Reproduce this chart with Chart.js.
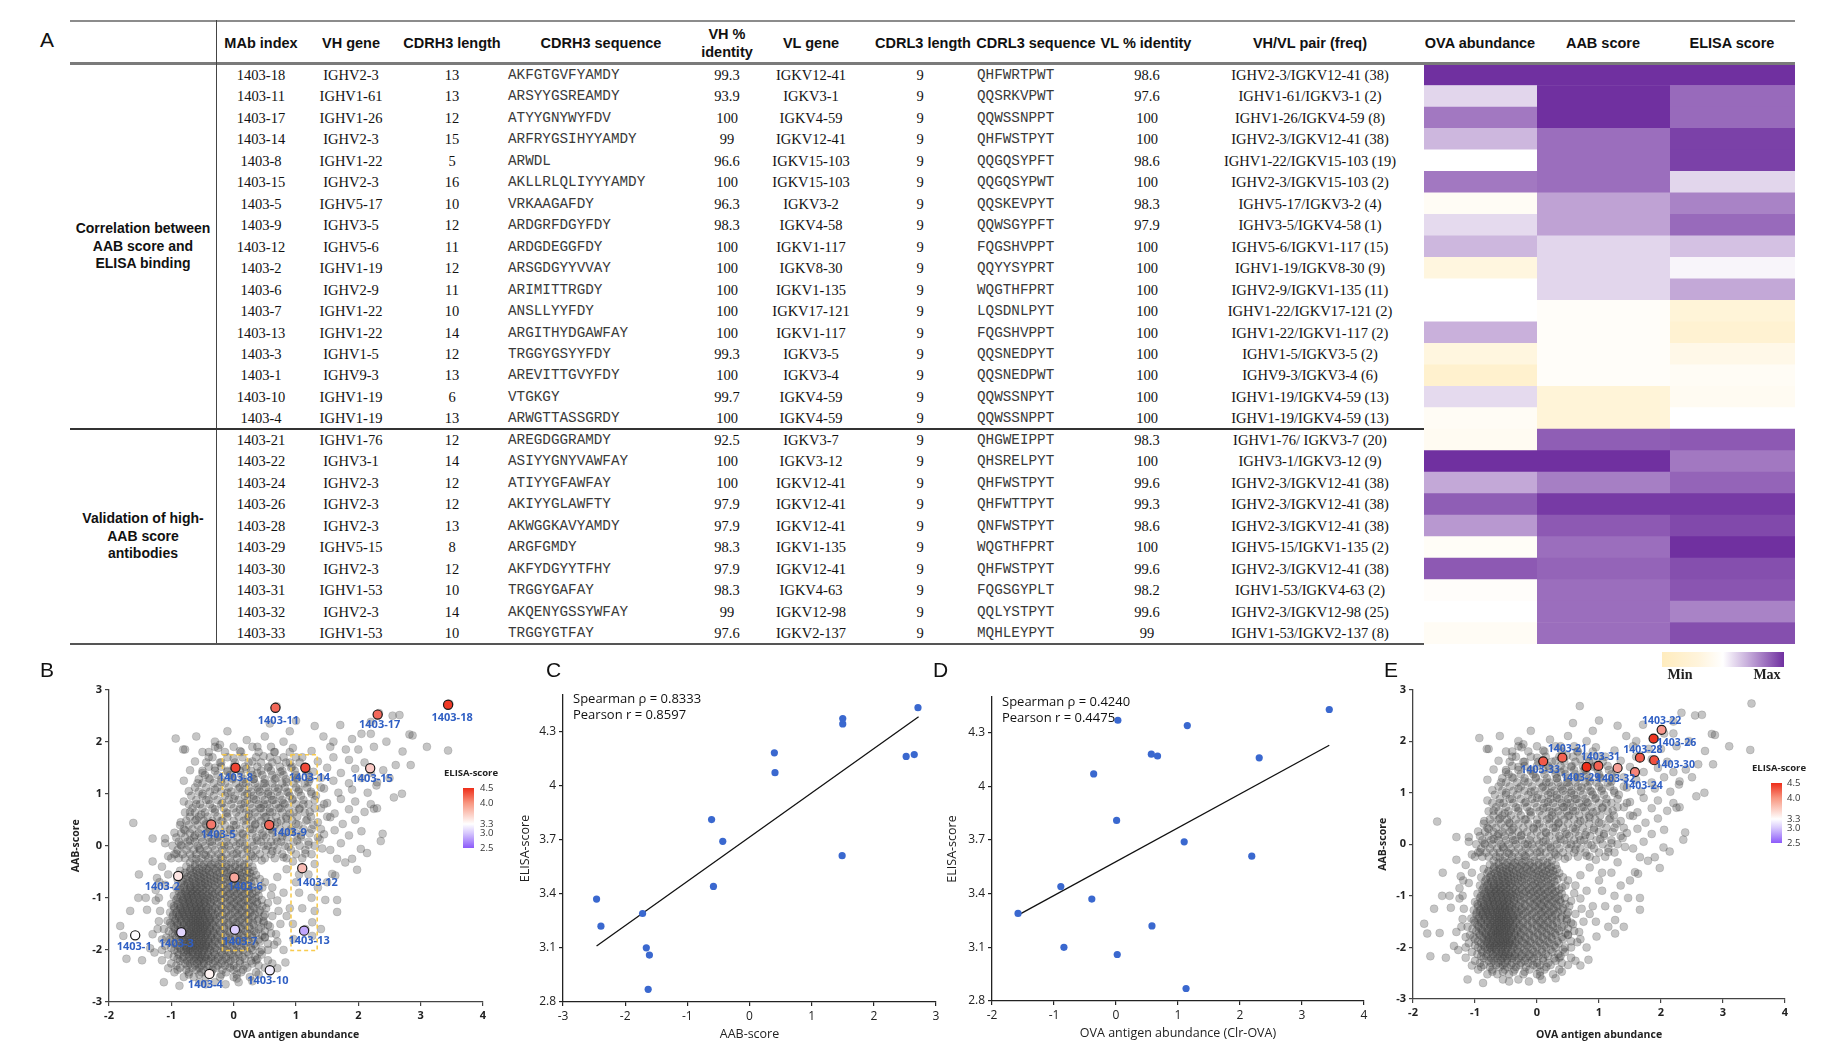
<!DOCTYPE html>
<html>
<head>
<meta charset="utf-8">
<script src="https://cdn.jsdelivr.net/npm/chart.js@4.4.1/dist/chart.umd.min.js"></script>
<style>
  html, body { margin: 0; padding: 0; background: #fff; }
  #page { position: relative; width: 1844px; height: 1062px; overflow: hidden; background: #fff; }
  .abs { position: absolute; white-space: pre; }
  .hd { font: bold 14.5px "Liberation Sans", Arial, sans-serif; color: #111; text-align: center; line-height: 18px; }
  .grp { font: bold 14px "Liberation Sans", Arial, sans-serif; color: #111; text-align: center; line-height: 17.5px; }
  .cell { font: 14.5px "Liberation Serif", "Times New Roman", serif; color: #111; text-align: center; line-height: 18px; }
  .seq { font: 14.3px "Liberation Mono", "Courier New", monospace; color: #3a3a3a; line-height: 18px; }
  .rule { position: absolute; }
  .panel { font: 21px "Liberation Sans", Arial, sans-serif; color: #111; line-height: 21px; }
  .stat { font: 13px "Open Sans", sans-serif; color: #111; line-height: 16px; }
  .lgT { font: bold 9.5px "Open Sans", sans-serif; color: #222; text-align: center; line-height: 12px; }
  .lgL { font: 9.5px "Open Sans", sans-serif; color: #333; line-height: 10px; }
  .mm { font: bold 14px "Liberation Serif", "Times New Roman", serif; color: #222; text-align: center; line-height: 16px; }
  canvas { position: absolute; }
</style>
</head>
<body>
<div id="page">
  <canvas id="heatOva"></canvas>
  <canvas id="heatAab"></canvas>
  <canvas id="heatElisa"></canvas>
  <canvas id="chartB"></canvas>
  <canvas id="chartC"></canvas>
  <canvas id="chartD"></canvas>
  <canvas id="chartE"></canvas>
</div>
<script>
// ---- table A ----
const mabIndex = ["1403-18", "1403-11", "1403-17", "1403-14", "1403-8", "1403-15", "1403-5", "1403-9", "1403-12", "1403-2", "1403-6", "1403-7", "1403-13", "1403-3", "1403-1", "1403-10", "1403-4",
  "1403-21", "1403-22", "1403-24", "1403-26", "1403-28", "1403-29", "1403-30", "1403-31", "1403-32", "1403-33"];
const vhGene = ["IGHV2-3", "IGHV1-61", "IGHV1-26", "IGHV2-3", "IGHV1-22", "IGHV2-3", "IGHV5-17", "IGHV3-5", "IGHV5-6", "IGHV1-19", "IGHV2-9", "IGHV1-22", "IGHV1-22", "IGHV1-5", "IGHV9-3", "IGHV1-19", "IGHV1-19",
  "IGHV1-76", "IGHV3-1", "IGHV2-3", "IGHV2-3", "IGHV2-3", "IGHV5-15", "IGHV2-3", "IGHV1-53", "IGHV2-3", "IGHV1-53"];
const cdrh3Length = ["13", "13", "12", "15", "5", "16", "10", "12", "11", "12", "11", "10", "14", "12", "13", "6", "13",
  "12", "14", "12", "12", "13", "8", "12", "10", "14", "10"];
const cdrh3Seq = ["AKFGTGVFYAMDY", "ARSYYGSREAMDY", "ATYYGNYWYFDV", "ARFRYGSIHYYAMDY", "ARWDL", "AKLLRLQLIYYYAMDY", "VRKAAGAFDY", "ARDGRFDGYFDY", "ARDGDEGGFDY", "ARSGDGYYVVAY", "ARIMITTRGDY", "ANSLLYYFDY", "ARGITHYDGAWFAY", "TRGGYGSYYFDY", "AREVITTGVYFDY", "VTGKGY", "ARWGTTASSGRDY",
  "AREGDGGRAMDY", "ASIYYGNYVAWFAY", "ATIYYGFAWFAY", "AKIYYGLAWFTY", "AKWGGKAVYAMDY", "ARGFGMDY", "AKFYDGYYTFHY", "TRGGYGAFAY", "AKQENYGSSYWFAY", "TRGGYGTFAY"];
const vhIdentity = ["99.3", "93.9", "100", "99", "96.6", "100", "96.3", "98.3", "100", "100", "100", "100", "100", "99.3", "100", "99.7", "100",
  "92.5", "100", "100", "97.9", "97.9", "98.3", "97.9", "98.3", "99", "97.6"];
const vlGene = ["IGKV12-41", "IGKV3-1", "IGKV4-59", "IGKV12-41", "IGKV15-103", "IGKV15-103", "IGKV3-2", "IGKV4-58", "IGKV1-117", "IGKV8-30", "IGKV1-135", "IGKV17-121", "IGKV1-117", "IGKV3-5", "IGKV3-4", "IGKV4-59", "IGKV4-59",
  "IGKV3-7", "IGKV3-12", "IGKV12-41", "IGKV12-41", "IGKV12-41", "IGKV1-135", "IGKV12-41", "IGKV4-63", "IGKV12-98", "IGKV2-137"];
const cdrl3Length = ["9", "9", "9", "9", "9", "9", "9", "9", "9", "9", "9", "9", "9", "9", "9", "9", "9",
  "9", "9", "9", "9", "9", "9", "9", "9", "9", "9"];
const cdrl3Seq = ["QHFWRTPWT", "QQSRKVPWT", "QQWSSNPPT", "QHFWSTPYT", "QQGQSYPFT", "QQGQSYPWT", "QQSKEVPYT", "QQWSGYPFT", "FQGSHVPPT", "QQYYSYPRT", "WQGTHFPRT", "LQSDNLPYT", "FQGSHVPPT", "QQSNEDPYT", "QQSNEDPWT", "QQWSSNPYT", "QQWSSNPPT",
  "QHGWEIPPT", "QHSRELPYT", "QHFWSTPYT", "QHFWTTPYT", "QNFWSTPYT", "WQGTHFPRT", "QHFWSTPYT", "FQGSGYPLT", "QQLYSTPYT", "MQHLEYPYT"];
const vlIdentity = ["98.6", "97.6", "100", "100", "98.6", "100", "98.3", "97.9", "100", "100", "100", "100", "100", "100", "100", "100", "100",
  "98.3", "100", "99.6", "99.3", "98.6", "100", "99.6", "98.2", "99.6", "99"];
const pairFreq = ["IGHV2-3/IGKV12-41 (38)", "IGHV1-61/IGKV3-1 (2)", "IGHV1-26/IGKV4-59 (8)", "IGHV2-3/IGKV12-41 (38)", "IGHV1-22/IGKV15-103 (19)", "IGHV2-3/IGKV15-103 (2)", "IGHV5-17/IGKV3-2 (4)", "IGHV3-5/IGKV4-58 (1)", "IGHV5-6/IGKV1-117 (15)", "IGHV1-19/IGKV8-30 (9)", "IGHV2-9/IGKV1-135 (11)", "IGHV1-22/IGKV17-121 (2)", "IGHV1-22/IGKV1-117 (2)", "IGHV1-5/IGKV3-5 (2)", "IGHV9-3/IGKV3-4 (6)", "IGHV1-19/IGKV4-59 (13)", "IGHV1-19/IGKV4-59 (13)",
  "IGHV1-76/ IGKV3-7 (20)", "IGHV3-1/IGKV3-12 (9)", "IGHV2-3/IGKV12-41 (38)", "IGHV2-3/IGKV12-41 (38)", "IGHV2-3/IGKV12-41 (38)", "IGHV5-15/IGKV1-135 (2)", "IGHV2-3/IGKV12-41 (38)", "IGHV1-53/IGKV4-63 (2)", "IGHV2-3/IGKV12-98 (25)", "IGHV1-53/IGKV2-137 (8)"];
const headerLabels = ["MAb index", "VH gene", "CDRH3 length", "CDRH3 sequence", "VH %\nidentity", "VL gene", "CDRL3 length", "CDRL3 sequence", "VL % identity", "VH/VL pair (freq)", "OVA abundance", "AAB score", "ELISA score"];
const groupLabels = ["Correlation between\nAAB score and\nELISA binding", "Validation of high-\nAAB score\nantibodies"];
const groupSizes = [17, 10];

// heatmap levels: -1 = min (yellow), 0 = white, 1 = max (purple)
const ovaHeat = [1.0, 0.2, 0.65, 0.35, 0.0, 0.65, -0.15, 0.18, 0.35, -0.5, 0.0, 0.0, 0.38, -0.5, -0.75, 0.18, -0.15,
  -0.2, 1.0, 0.42, 0.78, 0.5, -0.12, 0.8, -0.08, 0.0, -0.15];
const aabHeat = [1.0, 1.0, 1.0, 0.7, 0.7, 0.7, 0.45, 0.45, 0.2, 0.2, 0.2, -0.1, -0.1, -0.1, -0.1, -0.6, -0.6,
  0.78, 1.0, 0.62, 0.95, 0.8, 0.7, 0.75, 0.7, 0.7, 0.7];
const elisaHeat = [1.0, 0.72, 0.72, 0.92, 0.92, 0.2, 0.6, 0.72, 0.3, 0.05, 0.42, -0.6, -0.7, -0.35, -0.15, -0.2, 0.0,
  0.8, 0.65, 0.75, 0.95, 0.88, 1.0, 0.85, 0.82, 0.6, 0.85];

// ---- panels B, C, D: the 17 antibodies of the first group ----
const ova1 = [3.44, 0.67, 2.31, 1.15, 0.03, 2.19, -0.36, 0.57, 1.10, -0.89, 0.01, 0.02, 1.13, -0.84, -1.58, 0.58, -0.39];
const aab1 = [2.71, 2.65, 2.52, 1.50, 1.50, 1.49, 0.41, 0.40, -0.43, -0.58, -0.61, -1.61, -1.63, -1.66, -1.72, -2.39, -2.46];
const elisa1 = [4.43, 4.17, 4.16, 4.34, 4.37, 3.61, 4.07, 4.18, 3.69, 3.44, 3.81, 3.06, 2.87, 3.10, 3.29, 3.22, 3.37];
const fitC = [[-2.46, 3.11], [2.72, 4.38]];
const fitD = [[-1.58, 3.28], [3.44, 4.23]];
const statsC = ["Spearman ρ = 0.8333", "Pearson r = 0.8597"];
const statsD = ["Spearman ρ = 0.4240", "Pearson r = 0.4475"];

// ---- panel E: the 10 validation antibodies ----
const mabE = ["1403-21", "1403-22", "1403-24", "1403-26", "1403-28", "1403-29", "1403-30", "1403-31", "1403-32", "1403-33"];
const ovaE = [0.41, 2.01, 1.58, 1.88, 1.66, 0.80, 1.89, 0.99, 1.30, 0.10];
const aabE = [1.68, 2.22, 1.40, 2.05, 1.68, 1.50, 1.63, 1.52, 1.48, 1.61];
const elisaE = [4.2, 3.9, 4.0, 4.45, 4.25, 4.5, 4.3, 4.2, 3.85, 4.25];

// dashed selection boxes in B: [xMin, xMax, yMin, yMax]
const boxesB = [[-0.18, 0.22, -2.01, 1.75], [0.92, 1.34, -2.01, 1.75]];

const ticksOva = [-2, -1, 0, 1, 2, 3, 4];
const ticksAab = [-3, -2, -1, 0, 1, 2, 3];
const ticksElisa = [2.8, 3.1, 3.4, 3.7, 4, 4.3];
const elisaLegendTicks = [4.5, 4.0, 3.3, 3.0, 2.5];

// background library (OVA abundance vs AAB score), dense parts as rows: [y, x, x, ...]
const cloudCoreRows = [
  [-2.62, -0.55, -0.3, 0.08],
  [-2.52, -0.8, -0.64, -0.45, -0.22, 0.0, 0.26],
  [-2.43, -0.95, -0.72, -0.52, -0.36, -0.12, 0.12, 0.36],
  [-2.34, -0.86, -0.66, -0.55, -0.42, -0.28, -0.06, 0.05, 0.22, 0.5],
  [-2.26, -1.0, -0.78, -0.7, -0.58, -0.48, -0.33, -0.2, -0.08, 0.1, 0.3, 0.62],
  [-2.17, -0.9, -0.82, -0.68, -0.6, -0.52, -0.44, -0.36, -0.25, -0.12, 0.02, 0.18, 0.38],
  [-2.09, -1.05, -0.88, -0.75, -0.66, -0.57, -0.5, -0.41, -0.3, -0.18, -0.05, 0.08, 0.25, 0.45],
  [-2.0, -0.95, -0.84, -0.76, -0.7, -0.62, -0.55, -0.47, -0.38, -0.27, -0.14, 0.0, 0.15, 0.3, 0.55],
  [-1.92, -1.1, -0.9, -0.8, -0.72, -0.65, -0.58, -0.5, -0.44, -0.35, -0.22, -0.1, 0.05, 0.2, 0.35],
  [-1.84, -1.0, -0.86, -0.78, -0.7, -0.62, -0.55, -0.48, -0.4, -0.3, -0.18, -0.04, 0.1, 0.24, 0.42, 0.7],
  [-1.76, -1.08, -0.92, -0.82, -0.74, -0.67, -0.6, -0.52, -0.45, -0.36, -0.26, -0.12, 0.02, 0.16, 0.3, 0.5],
  [-1.68, -0.98, -0.88, -0.78, -0.7, -0.63, -0.56, -0.49, -0.42, -0.32, -0.2, -0.06, 0.08, 0.22, 0.36, 0.6],
  [-1.6, -1.12, -0.94, -0.84, -0.75, -0.68, -0.6, -0.53, -0.46, -0.38, -0.28, -0.15, 0.0, 0.12, 0.26, 0.4],
  [-1.52, -1.0, -0.9, -0.8, -0.72, -0.64, -0.57, -0.5, -0.43, -0.34, -0.22, -0.08, 0.05, 0.18, 0.32, 0.55],
  [-1.44, -1.06, -0.94, -0.85, -0.76, -0.68, -0.61, -0.54, -0.47, -0.39, -0.3, -0.16, -0.02, 0.1, 0.24, 0.38],
  [-1.36, -0.98, -0.88, -0.8, -0.72, -0.64, -0.57, -0.5, -0.42, -0.33, -0.22, -0.08, 0.06, 0.18, 0.3, 0.48],
  [-1.28, -1.02, -0.92, -0.83, -0.75, -0.67, -0.6, -0.52, -0.45, -0.36, -0.25, -0.12, 0.02, 0.14, 0.27, 0.4],
  [-1.2, -0.95, -0.86, -0.78, -0.7, -0.62, -0.55, -0.48, -0.4, -0.3, -0.18, -0.04, 0.08, 0.2, 0.33, 0.52],
  [-1.12, -1.0, -0.9, -0.8, -0.72, -0.64, -0.56, -0.48, -0.38, -0.26, -0.12, 0.0, 0.12, 0.25, 0.38],
  [-1.04, -0.92, -0.82, -0.74, -0.66, -0.58, -0.5, -0.42, -0.32, -0.2, -0.06, 0.06, 0.18, 0.3, 0.45],
  [-0.96, -0.96, -0.85, -0.76, -0.68, -0.6, -0.52, -0.43, -0.34, -0.22, -0.1, 0.02, 0.14, 0.27, 0.4],
  [-0.88, -0.88, -0.78, -0.7, -0.62, -0.54, -0.45, -0.35, -0.24, -0.12, 0.0, 0.12, 0.24, 0.36],
  [-0.8, -0.92, -0.8, -0.7, -0.62, -0.53, -0.44, -0.33, -0.2, -0.07, 0.05, 0.18, 0.3, 0.46],
  [-0.72, -0.84, -0.74, -0.64, -0.55, -0.46, -0.36, -0.24, -0.1, 0.02, 0.15, 0.28],
  [-0.64, -0.9, -0.76, -0.66, -0.56, -0.47, -0.37, -0.26, -0.14, 0.0, 0.12, 0.25, 0.42],
  [-0.56, -0.8, -0.68, -0.58, -0.48, -0.38, -0.27, -0.15, -0.02, 0.1, 0.22, 0.36],
  [-0.48, -0.86, -0.7, -0.6, -0.5, -0.4, -0.28, -0.16, -0.04, 0.08, 0.2, 0.32],
  [-0.4, -0.76, -0.62, -0.5, -0.38, -0.25, -0.12, 0.02, 0.16, 0.3],
  [-0.32, -0.7, -0.55, -0.42, -0.3, -0.18, -0.04, 0.1, 0.24],
  [-2.47, -0.72, -0.55, -0.38, -0.2, 0.05],
  [-2.38, -0.9, -0.76, -0.6, -0.48, -0.34, -0.18, 0.0, 0.15],
  [-2.3, -0.92, -0.74, -0.62, -0.52, -0.4, -0.26, -0.14, 0.0, 0.18, 0.4],
  [-2.21, -0.86, -0.74, -0.64, -0.56, -0.48, -0.4, -0.3, -0.18, -0.05, 0.1, 0.28],
  [-2.13, -0.96, -0.8, -0.71, -0.62, -0.54, -0.46, -0.36, -0.24, -0.12, 0.0, 0.14, 0.34],
  [-2.04, -0.9, -0.8, -0.73, -0.66, -0.58, -0.51, -0.42, -0.32, -0.2, -0.07, 0.08, 0.22, 0.42],
  [-1.96, -1.0, -0.86, -0.76, -0.68, -0.61, -0.54, -0.47, -0.4, -0.3, -0.16, -0.02, 0.12, 0.28],
  [-1.88, -0.95, -0.82, -0.74, -0.66, -0.59, -0.52, -0.44, -0.35, -0.24, -0.11, 0.03, 0.17, 0.33, 0.55],
  [-1.8, -1.02, -0.88, -0.79, -0.71, -0.64, -0.56, -0.49, -0.41, -0.31, -0.19, -0.05, 0.09, 0.23, 0.4],
  [-1.72, -0.94, -0.83, -0.74, -0.66, -0.6, -0.53, -0.45, -0.37, -0.26, -0.13, 0.01, 0.15, 0.29, 0.46],
  [-1.64, -1.04, -0.9, -0.8, -0.71, -0.64, -0.57, -0.5, -0.42, -0.33, -0.22, -0.08, 0.06, 0.19, 0.33, 0.5],
  [-1.56, -0.96, -0.85, -0.76, -0.68, -0.61, -0.54, -0.47, -0.39, -0.28, -0.15, -0.01, 0.12, 0.25, 0.44],
  [-1.48, -1.02, -0.9, -0.8, -0.72, -0.65, -0.58, -0.51, -0.43, -0.35, -0.23, -0.09, 0.04, 0.17, 0.31, 0.48],
  [-1.4, -0.93, -0.84, -0.76, -0.68, -0.61, -0.54, -0.46, -0.38, -0.28, -0.15, -0.01, 0.12, 0.24, 0.4],
  [-1.32, -0.97, -0.87, -0.79, -0.71, -0.64, -0.56, -0.49, -0.41, -0.3, -0.18, -0.05, 0.08, 0.21, 0.34, 0.5],
  [-1.24, -0.9, -0.82, -0.74, -0.66, -0.59, -0.52, -0.44, -0.35, -0.24, -0.11, 0.02, 0.14, 0.27, 0.42],
  [-1.16, -0.96, -0.85, -0.76, -0.68, -0.6, -0.52, -0.44, -0.34, -0.2, -0.06, 0.06, 0.18, 0.31, 0.46],
  [-1.08, -0.87, -0.78, -0.7, -0.62, -0.54, -0.46, -0.37, -0.26, -0.13, 0.0, 0.12, 0.24, 0.37],
  [-1.0, -0.9, -0.8, -0.72, -0.64, -0.55, -0.47, -0.38, -0.27, -0.14, -0.02, 0.1, 0.22, 0.35],
  [-0.92, -0.83, -0.74, -0.66, -0.58, -0.5, -0.4, -0.3, -0.18, -0.06, 0.06, 0.18, 0.3],
  [-0.84, -0.86, -0.75, -0.66, -0.58, -0.49, -0.39, -0.27, -0.14, -0.01, 0.11, 0.24, 0.4],
  [-0.76, -0.79, -0.69, -0.6, -0.5, -0.41, -0.3, -0.17, -0.04, 0.08, 0.22],
  [-0.68, -0.82, -0.71, -0.61, -0.52, -0.42, -0.31, -0.2, -0.07, 0.06, 0.18, 0.33],
  [-0.6, -0.74, -0.63, -0.53, -0.43, -0.32, -0.21, -0.08, 0.04, 0.16, 0.29],
  [-0.52, -0.78, -0.65, -0.55, -0.45, -0.34, -0.22, -0.1, 0.02, 0.14, 0.26],
  [-0.44, -0.69, -0.56, -0.44, -0.32, -0.19, -0.06, 0.09, 0.23],
  [-0.36, -0.62, -0.48, -0.36, -0.24, -0.11, 0.03, 0.17],
  [-0.24, -1.0, -0.88, -0.78, -0.66, -0.52, -0.4, -0.3, -0.18, -0.06, 0.06, 0.2, 0.34, 0.5, 0.66, 0.85, 1.1],
  [-0.16, -0.95, -0.82, -0.7, -0.6, -0.48, -0.36, -0.24, -0.12, 0.0, 0.14, 0.28, 0.42, 0.6, 0.78, 1.0, 1.25],
  [-0.08, -0.9, -0.76, -0.64, -0.54, -0.42, -0.3, -0.18, -0.05, 0.08, 0.22, 0.36, 0.52, 0.7, 0.92, 1.15],
  [0.0, -0.98, -0.84, -0.72, -0.58, -0.46, -0.34, -0.2, -0.08, 0.04, 0.18, 0.32, 0.48, 0.64, 0.82, 1.06, 1.3],
  [0.08, -0.88, -0.74, -0.62, -0.5, -0.38, -0.24, -0.12, 0.0, 0.14, 0.3, 0.44, 0.6, 0.76, 0.96, 1.2],
  [0.16, -0.92, -0.78, -0.64, -0.52, -0.4, -0.26, -0.1, 0.06, 0.2, 0.36, 0.52, 0.68, 0.86, 1.08, 1.35],
  [0.24, -0.84, -0.7, -0.56, -0.44, -0.3, -0.16, 0.0, 0.14, 0.3, 0.46, 0.62, 0.8, 1.0, 1.22],
  [0.32, -0.8, -0.66, -0.52, -0.38, -0.22, -0.06, 0.1, 0.26, 0.42, 0.58, 0.74, 0.92, 1.12, 1.4],
  [0.4, -0.86, -0.72, -0.58, -0.44, -0.3, -0.14, 0.04, 0.2, 0.34, 0.5, 0.66, 0.84, 1.04, 1.28],
  [0.48, -0.76, -0.62, -0.48, -0.34, -0.18, 0.0, 0.16, 0.3, 0.44, 0.6, 0.76, 0.94, 1.16],
  [0.56, -0.7, -0.56, -0.42, -0.26, -0.1, 0.08, 0.24, 0.38, 0.52, 0.68, 0.84, 1.02, 1.24, 1.5],
  [0.64, -0.78, -0.62, -0.46, -0.3, -0.12, 0.04, 0.2, 0.34, 0.48, 0.62, 0.78, 0.96, 1.14],
  [0.72, -0.66, -0.5, -0.34, -0.16, 0.0, 0.16, 0.3, 0.44, 0.58, 0.72, 0.88, 1.06, 1.3],
  [0.8, -0.72, -0.54, -0.38, -0.2, -0.04, 0.12, 0.26, 0.4, 0.54, 0.68, 0.82, 1.0, 1.2, 1.45],
  [0.88, -0.6, -0.44, -0.26, -0.08, 0.08, 0.22, 0.36, 0.5, 0.64, 0.78, 0.94, 1.12],
  [0.96, -0.68, -0.5, -0.32, -0.14, 0.02, 0.18, 0.32, 0.46, 0.6, 0.74, 0.9, 1.08, 1.32],
  [1.04, -0.56, -0.38, -0.2, -0.04, 0.14, 0.28, 0.42, 0.56, 0.7, 0.86, 1.04, 1.24],
  [1.12, -0.62, -0.44, -0.26, -0.08, 0.1, 0.24, 0.38, 0.52, 0.66, 0.82, 1.0, 1.18, 1.4],
  [1.2, -0.5, -0.32, -0.14, 0.04, 0.2, 0.34, 0.48, 0.62, 0.78, 0.96, 1.14],
  [1.28, -0.56, -0.38, -0.2, -0.02, 0.16, 0.32, 0.5, 0.66, 0.84, 1.02, 1.22],
  [1.36, -0.46, -0.26, -0.06, 0.12, 0.3, 0.46, 0.62, 0.8, 1.0, 1.2],
  [1.44, -0.5, -0.3, -0.1, 0.1, 0.28, 0.44, 0.6, 0.78, 0.98, 1.16],
  [1.52, -0.4, -0.2, 0.0, 0.18, 0.38, 0.56, 0.74, 0.94, 1.14],
  [1.6, -0.44, -0.22, 0.02, 0.24, 0.44, 0.62, 0.84, 1.06],
  [1.7, -0.34, -0.1, 0.14, 0.36, 0.58, 0.8, 1.0],
  [1.8, -0.4, -0.14, 0.12, 0.4, 0.66, 0.9],
  [1.9, -0.3, 0.0, 0.3, 0.6]
];
// outer band and scattered outliers: [x, y]
const cloudMid = [
  [-1.05, -0.2], [-0.92, -0.15], [-0.6, -0.25], [-0.45, -0.18], [-0.2, -0.22], [0.05, -0.15], [0.3, -0.2], [0.45, -0.28], [0.62, -0.1], [0.8, -0.22], [0.95, -0.3], [1.15, -0.15], [1.3, -0.35], [1.42, -0.05],
  [-1.1, 0.05], [-0.85, 0.02], [-0.7, 0.1], [-0.55, -0.05], [-0.35, 0.08], [-0.15, 0.0], [0.1, 0.05], [0.22, -0.05], [0.38, 0.1], [0.55, 0.0], [0.7, 0.08], [0.88, -0.02], [1.02, 0.1], [1.2, 0.02], [1.38, 0.12], [1.55, -0.08], [1.72, 0.05],
  [-0.95, 0.25], [-0.78, 0.3], [-0.62, 0.2], [-0.4, 0.28], [-0.25, 0.18], [-0.05, 0.3], [0.15, 0.22], [0.3, 0.32], [0.48, 0.2], [0.62, 0.3], [0.78, 0.18], [0.92, 0.28], [1.08, 0.2], [1.25, 0.32], [1.45, 0.22], [1.62, 0.3], [1.85, 0.2], [2.05, 0.28],
  [-0.85, 0.45], [-0.6, 0.5], [-0.45, 0.42], [-0.2, 0.48], [0.0, 0.4], [0.2, 0.5], [0.35, 0.42], [0.5, 0.55], [0.7, 0.45], [0.85, 0.52], [1.0, 0.42], [1.18, 0.5], [1.35, 0.45], [1.55, 0.55], [1.75, 0.42], [1.95, 0.5],
  [-0.7, 0.65], [-0.52, 0.6], [-0.3, 0.7], [-0.1, 0.62], [0.1, 0.7], [0.25, 0.62], [0.42, 0.72], [0.58, 0.65], [0.75, 0.72], [0.9, 0.62], [1.05, 0.7], [1.22, 0.65], [1.4, 0.72], [1.62, 0.62], [1.85, 0.7], [2.1, 0.65], [2.3, 0.72],
  [-0.8, 0.85], [-0.6, 0.8], [-0.4, 0.88], [-0.18, 0.82], [0.0, 0.9], [0.18, 0.82], [0.32, 0.9], [0.48, 0.8], [0.62, 0.88], [0.8, 0.82], [0.95, 0.9], [1.12, 0.8], [1.3, 0.88], [1.5, 0.82], [1.72, 0.9], [1.95, 0.85], [2.2, 0.8],
  [-0.72, 1.05], [-0.5, 1.0], [-0.3, 1.08], [-0.1, 1.02], [0.08, 1.1], [0.22, 1.0], [0.4, 1.08], [0.55, 1.0], [0.72, 1.1], [0.88, 1.02], [1.05, 1.08], [1.25, 1.0], [1.45, 1.1], [1.68, 1.02], [1.9, 1.08], [2.15, 1.02],
  [-0.8, 1.25], [-0.58, 1.2], [-0.4, 1.3], [-0.2, 1.22], [-0.02, 1.3], [0.15, 1.2], [0.32, 1.28], [0.5, 1.2], [0.68, 1.3], [0.85, 1.22], [1.02, 1.3], [1.2, 1.22], [1.4, 1.3], [1.6, 1.25], [1.85, 1.2], [2.05, 1.3], [2.3, 1.22],
  [-0.7, 1.45], [-0.5, 1.4], [-0.3, 1.5], [-0.1, 1.42], [0.2, 1.48], [0.38, 1.4], [0.55, 1.5], [0.75, 1.42], [0.92, 1.5], [1.28, 1.42], [1.5, 1.5], [1.72, 1.4], [1.95, 1.48], [2.4, 1.45],
  [-0.62, 1.62], [-0.4, 1.7], [-0.2, 1.6], [0.0, 1.68], [0.3, 1.62], [0.48, 1.72], [0.7, 1.65], [0.9, 1.6], [1.1, 1.7], [1.35, 1.62], [1.6, 1.7], [1.85, 1.65], [2.1, 1.6],
  [-0.78, 1.85], [-0.5, 1.8], [-0.25, 1.88], [0.1, 1.82], [0.38, 1.9], [0.65, 1.8], [0.95, 1.88], [1.25, 1.82], [1.55, 1.9], [1.8, 1.85], [2.25, 1.9],
  [-0.93, 2.06], [-0.3, 2.0], [0.21, 2.03], [0.5, 2.1], [0.8, 2.0], [1.44, 2.1], [1.9, 2.05], [2.2, 2.15]
];
const cloudSparse = [
  [3.46, 2.73], [3.44, 1.83], [2.82, 2.14], [2.87, 2.12], [2.71, 1.81], [2.84, 1.55], [2.66, 2.51], [2.33, 2.55], [1.71, 2.32], [0.69, 2.68], [0.58, 2.35],
  [-0.22, 1.94], [-0.81, 1.85], [2.57, 0.93], [2.29, 1.16], [2.25, 0.71], [2.39, 0.23], [2.36, 0.09], [2.14, -0.14], [2.04, -0.06], [1.98, -0.46], [1.79, -0.32],
  [1.9, -0.25], [1.66, -0.25], [1.63, -0.57], [1.58, -0.54], [1.5, -0.7], [1.66, -1.04], [1.47, -1.04], [1.66, -1.27], [1.26, -1.47], [1.26, -1.73], [1.15, -1.6],
  [0.96, -1.79], [0.83, -2.24], [-1.61, 0.44], [-1.3, 0.14], [-1.1, 0.14], [-1.52, -0.55], [-1.23, -0.62], [-1.19, -0.7], [-1.53, -1.0], [-1.41, -1.0],
  [-1.66, -1.25], [-1.39, -1.23], [-1.25, -1.05], [-1.82, -1.54], [-1.77, -1.73], [-1.57, -1.72], [-1.72, -2.17], [-1.47, -2.2], [-1.34, -1.97], [-1.27, -2.05],
  [-1.12, -2.62], [-0.87, -2.69], [-0.45, -2.66], [-0.13, -2.66], [0.05, -2.55], [0.4, -2.47],
  [1.2, -0.55], [1.35, -0.8], [1.05, -0.9], [0.9, -1.2], [0.75, -1.5], [0.65, -1.9], [0.55, -2.2], [0.7, -0.6], [0.85, -0.45], [1.0, -0.7], [0.6, -0.95],
  [0.72, -1.25], [0.58, -1.55], [0.5, -1.75], [-1.2, -1.45], [-1.15, -1.8], [-1.3, -0.3], [-1.15, -0.4], [-1.05, -2.35], [2.5, 1.3], [2.6, 1.55], [2.45, 2.0],
  [2.0, 1.85], [1.3, 2.3], [1.0, 2.4], [0.9, 2.2], [-0.6, 2.1], [-0.1, 2.2], [2.7, 1.0], [2.2, 1.4], [1.6, 2.0], [3.1, 1.9], [2.05, 2.15], [2.2, 2.38], [2.55, 2.5],
  [0.5, -0.7], [0.62, -0.8], [0.8, -0.9], [0.55, -1.1], [0.7, -1.05], [0.85, -1.35], [0.62, -1.35], [0.48, -1.45], [0.68, -1.7], [0.8, -2.0], [0.45, -2.0],
  [0.36, -2.2], [1.1, -1.2], [1.25, -1.0], [0.95, -1.5], [1.05, -0.55], [1.3, -1.25], [1.4, -1.6], [0.7, -2.35], [0.3, -2.6],
  [-1.2, -1.0], [-1.18, -1.25], [-1.22, -1.6], [-1.15, -2.0], [-1.1, -0.75], [-1.25, -0.85], [-1.05, -0.55], [-1.15, -2.2], [-1.3, -1.7]
];

const cloudPoints = [];
cloudCoreRows.forEach(([y, ...xs]) => xs.forEach(x => cloudPoints.push({ x, y })));
cloudMid.concat(cloudSparse).forEach(([x, y]) => cloudPoints.push({ x, y }));

// ---------- helpers ----------
const page = document.getElementById("page");
function addDiv(cls, text, left, top, width, align) {
  const d = document.createElement("div");
  d.className = "abs " + cls;
  d.textContent = text;
  d.style.left = left + "px";
  d.style.top = top + "px";
  if (width) d.style.width = width + "px";
  if (align) d.style.textAlign = align;
  page.appendChild(d);
  return d;
}
function addRule(left, top, width, height, color) {
  const d = document.createElement("div");
  d.className = "rule";
  Object.assign(d.style, { left: left + "px", top: top + "px", width: width + "px", height: height + "px", background: color, zIndex: 5 });
  page.appendChild(d);
}
function mix(a, b, t) {
  return "rgb(" + a.map((v, i) => Math.round(v + (b[i] - v) * t)).join(",") + ")";
}
function heatColor(v) {
  return v >= 0 ? mix([255, 255, 255], [112, 48, 160], Math.min(1, v)) : mix([255, 255, 255], [255, 236, 190], Math.min(1, -v));
}
function elisaColor(v) {
  if (v >= 3.3) return mix([255, 255, 255], [238, 45, 25], Math.min(1, (v - 3.3) / 1.2));
  return mix([255, 255, 255], [140, 90, 250], Math.min(1, (3.3 - v) / 0.8));
}

// ---------- table layout ----------
const rowTop = 64, rowH = 580 / 27;
const rowCenter = i => rowTop + rowH * (i + 0.5);
const headerX = [261, 351, 452, 601, 727, 811, 923, 1036, 1146, 1310, 1480, 1603, 1732];
headerLabels.forEach((t, i) => {
  const lines = t.split("\n").length;
  addDiv("hd", t, headerX[i] - 80, 43 - lines * 9, 160);
});
const tableCols = [
  { data: mabIndex, x: 261 }, { data: vhGene, x: 351 }, { data: cdrh3Length, x: 452 },
  { data: cdrh3Seq, x: 508, seq: true }, { data: vhIdentity, x: 727 }, { data: vlGene, x: 811 },
  { data: cdrl3Length, x: 920 }, { data: cdrl3Seq, x: 977, seq: true }, { data: vlIdentity, x: 1147 },
  { data: pairFreq, x: 1310 }
];
tableCols.forEach(col => {
  col.data.forEach((t, i) => {
    if (col.seq) addDiv("seq", t, col.x, rowCenter(i) - 9);
    else addDiv("cell", t, col.x - 90, rowCenter(i) - 9, 180);
  });
});
let startRow = 0;
groupLabels.forEach((t, g) => {
  const mid = rowTop + rowH * (startRow + groupSizes[g] / 2);
  addDiv("grp", t, 143 - 75, mid - 26.25, 150);
  startRow += groupSizes[g];
});
addRule(70, 20, 1725, 2, "#8c8c8c");
addRule(70, 62, 1725, 2.5, "#7a7a7a");
addRule(215.5, 20, 1.5, 624, "#444");
addRule(70, 428, 1354, 1.5, "#333");
addRule(70, 643, 1354, 1.5, "#555");

// ---------- heatmap columns ----------
function heatColumn(id, values, left, width) {
  const el = document.getElementById(id);
  el.width = width; el.height = 580;
  Object.assign(el.style, { left: left + "px", top: rowTop + "px", width: width + "px", height: "580px" });
  new Chart(el, {
    type: "bar",
    data: {
      labels: mabIndex,
      datasets: [{ data: mabIndex.map(() => 1), backgroundColor: values.map(heatColor), borderWidth: 0, barPercentage: 1, categoryPercentage: 1 }]
    },
    options: {
      indexAxis: "y", responsive: false, animation: false, events: [],
      layout: { padding: 0 },
      plugins: { legend: { display: false }, tooltip: { enabled: false } },
      scales: { x: { display: false, min: 0, max: 1 }, y: { display: false } }
    }
  });
}
heatColumn("heatOva", ovaHeat, 1424, 113);
heatColumn("heatAab", aabHeat, 1537, 133);
heatColumn("heatElisa", elisaHeat, 1670, 125);

// Min / Max legend
const mmBar = document.createElement("div");
Object.assign(mmBar.style, { position: "absolute", left: "1662px", top: "652px", width: "122px", height: "15px",
  background: "linear-gradient(to right, rgb(255,236,190) 0%, rgb(255,244,220) 30%, #fff 50%, rgb(200,175,220) 70%, rgb(112,48,160) 100%)" });
page.appendChild(mmBar);
addDiv("mm", "Min", 1650, 667, 60);
addDiv("mm", "Max", 1737, 667, 60);

// ---------- panel letters ----------
[["A", 40, 29], ["B", 40, 659], ["C", 546, 659], ["D", 933, 659], ["E", 1384, 659]].forEach(([t, x, y]) => addDiv("panel", t, x, y));

// ---------- scatter panels ----------
function labelPlugin(names, xs, ys, offsets, font) {
  return {
    id: "pointLabels",
    afterDatasetsDraw(chart) {
      const { ctx, scales: { x, y } } = chart;
      ctx.save();
      ctx.font = font;
      ctx.fillStyle = "#2f5fc4";
      ctx.textAlign = "center";
      ctx.textBaseline = "middle";
      names.forEach((n, i) => {
        ctx.fillText(n, x.getPixelForValue(xs[i]) + offsets[i][0], y.getPixelForValue(ys[i]) + offsets[i][1]);
      });
      ctx.restore();
    }
  };
}
const boxPlugin = {
  id: "dashedBoxes",
  afterDatasetsDraw(chart) {
    const { ctx, scales: { x, y } } = chart;
    ctx.save();
    ctx.strokeStyle = "rgba(248,200,70,0.95)";
    ctx.lineWidth = 1.6;
    ctx.setLineDash([4, 3]);
    boxesB.forEach(([x0, x1, y0, y1]) => {
      const px0 = x.getPixelForValue(x0), px1 = x.getPixelForValue(x1);
      const py0 = y.getPixelForValue(y1), py1 = y.getPixelForValue(y0);
      ctx.strokeRect(px0, py0, px1 - px0, py1 - py0);
    });
    ctx.restore();
  }
};

function scatterChart(id, box, area, cfg) {
  const el = document.getElementById(id);
  el.width = box.w; el.height = box.h;
  Object.assign(el.style, { left: box.x + "px", top: box.y + "px", width: box.w + "px", height: box.h + "px" });
  const weight = cfg.bold ? "bold" : "normal";
  const tickFont = { family: "Open Sans", size: cfg.tickSize, weight };
  const titleFont = { family: "Open Sans", size: cfg.titleSize, weight };
  const lh = cfg.titleSize * 1.2;
  const axis = (ticks, min, max, title, fit, titlePad) => ({
    type: "linear", min, max,
    afterBuildTicks: s => { s.ticks = ticks.map(v => ({ value: v })); },
    afterFit: fit,
    border: { display: true, color: cfg.axisColor, width: 1.3 },
    grid: { display: true, drawOnChartArea: false, drawTicks: true, tickLength: 4, color: cfg.axisColor, lineWidth: 1.2 },
    ticks: { font: tickFont, color: "#222", padding: 3, maxRotation: 0, autoSkip: false, callback: v => String(v) },
    title: { display: true, text: title, font: titleFont, color: "#222", padding: titlePad }
  });
  return new Chart(el, {
    type: "scatter",
    data: { datasets: cfg.datasets },
    options: {
      responsive: false, animation: false, events: [],
      layout: { padding: { left: 0, top: area.y0 - box.y, right: box.x + box.w - area.x1, bottom: 0 } },
      plugins: { legend: { display: false }, tooltip: { enabled: false } },
      scales: {
        x: axis(cfg.xTicks, cfg.xMin, cfg.xMax, cfg.xTitle, s => { s.height = box.y + box.h - area.y1; },
          { top: 0, bottom: box.y + box.h - cfg.xTitleY - lh / 2 }),
        y: axis(cfg.yTicks, cfg.yMin, cfg.yMax, cfg.yTitle, s => { s.width = area.x0 - box.x; },
          { top: cfg.yTitleX - box.x - lh / 2, bottom: 0 })
      }
    },
    plugins: cfg.plugins || []
  });
}

const cloudSet = { data: cloudPoints, pointRadius: 4.0, backgroundColor: "rgba(62,62,62,0.3)", borderColor: "rgba(70,70,70,0.22)", borderWidth: 0.8, order: 2 };

// B
const offsetsB = [[4, 13], [3, 13], [2, 10], [4, 10], [0, 10], [2, 11], [7, 10], [20, 8], [15, 15], [-16, 11], [11, 9], [5, 12], [5, 10], [-5, 12], [-1, 12], [-2, 11], [-4, 11]];
scatterChart("chartB", { x: 45, y: 680, w: 460, h: 370 }, { x0: 109, x1: 483, y0: 689, y1: 1002 }, {
  bold: true, tickSize: 11, titleSize: 10.5, axisColor: "#444",
  xMin: -2, xMax: 4, xTicks: ticksOva, yMin: -3, yMax: 3, yTicks: ticksAab,
  xTitle: "OVA antigen abundance", yTitle: "AAB-score", xTitleY: 1035, yTitleX: 76,
  datasets: [
    { data: ova1.map((x, i) => ({ x, y: aab1[i] })), pointRadius: 4.6, backgroundColor: elisa1.map(elisaColor), borderColor: "#1a1a1a", borderWidth: 1.2, order: 0 },
    cloudSet
  ],
  plugins: [boxPlugin, labelPlugin(mabIndex.slice(0, 17), ova1, aab1, offsetsB, "bold 11px 'Open Sans'")]
});

// C
const blue = "#3a68cf";
scatterChart("chartC", { x: 515, y: 680, w: 440, h: 370 }, { x0: 563, x1: 936, y0: 695, y1: 1002 }, {
  bold: false, tickSize: 12, titleSize: 12.5, axisColor: "#222",
  xMin: -3, xMax: 3, xTicks: ticksAab, yMin: 2.8, yMax: 4.5, yTicks: ticksElisa,
  xTitle: "AAB-score", yTitle: "ELISA-score", xTitleY: 1034, yTitleX: 525,
  datasets: [
    { data: aab1.map((x, i) => ({ x, y: elisa1[i] })), pointRadius: 3.6, backgroundColor: blue, borderWidth: 0, order: 0 },
    { data: fitC.map(([x, y]) => ({ x, y })), showLine: true, pointRadius: 0, borderColor: "#111", borderWidth: 1.3, order: 1 }
  ]
});
statsC.forEach((t, i) => addDiv("stat", t, 573, 690 + i * 16));

// D
scatterChart("chartD", { x: 935, y: 680, w: 445, h: 370 }, { x0: 992, x1: 1364, y0: 697, y1: 1001 }, {
  bold: false, tickSize: 12, titleSize: 12.5, axisColor: "#222",
  xMin: -2, xMax: 4, xTicks: ticksOva, yMin: 2.8, yMax: 4.5, yTicks: ticksElisa,
  xTitle: "OVA antigen abundance (Clr-OVA)", yTitle: "ELISA-score", xTitleY: 1033, yTitleX: 952,
  datasets: [
    { data: ova1.map((x, i) => ({ x, y: elisa1[i] })), pointRadius: 3.6, backgroundColor: blue, borderWidth: 0, order: 0 },
    { data: fitD.map(([x, y]) => ({ x, y })), showLine: true, pointRadius: 0, borderColor: "#111", borderWidth: 1.3, order: 1 }
  ]
});
statsD.forEach((t, i) => addDiv("stat", t, 1002, 693 + i * 16));

// E
const offsetsE = [[5, -9], [0, -9], [8, 14], [23, 4], [3, -8], [-6, 11], [21, 5], [2, -9], [-2, 11], [-3, 9]];
scatterChart("chartE", { x: 1375, y: 680, w: 430, h: 370 }, { x0: 1413, x1: 1785, y0: 688, y1: 999 }, {
  bold: true, tickSize: 11, titleSize: 10.5, axisColor: "#444",
  xMin: -2, xMax: 4, xTicks: ticksOva, yMin: -3, yMax: 3, yTicks: ticksAab,
  xTitle: "OVA antigen abundance", yTitle: "AAB-score", xTitleY: 1035, yTitleX: 1383,
  datasets: [
    { data: ovaE.map((x, i) => ({ x, y: aabE[i] })), pointRadius: 4.5, backgroundColor: elisaE.map(elisaColor), borderColor: "#1a1a1a", borderWidth: 1.2, order: 0 },
    cloudSet
  ],
  plugins: [labelPlugin(mabE, ovaE, aabE, offsetsE, "bold 10.5px 'Open Sans'")]
});

// ELISA-score colour legends (B and E)
function elisaLegend(cx, barLeft, barTop, labelLeft) {
  addDiv("lgT", "ELISA-score", cx - 40, barTop - 21, 80);
  const bar = document.createElement("div");
  Object.assign(bar.style, { position: "absolute", left: barLeft + "px", top: barTop + "px", width: "11px", height: "60px", zIndex: 6,
    background: "linear-gradient(to bottom, rgb(238,45,25) 0%, rgb(248,150,128) 25%, #fff 60%, rgb(215,200,253) 75%, rgb(140,90,250) 100%)" });
  page.appendChild(bar);
  elisaLegendTicks.forEach(v => {
    const y = barTop + (4.5 - v) / 2.0 * 60;
    addDiv("lgL", v.toFixed(1), labelLeft, y - 5);
  });
}
elisaLegend(471, 463, 788, 480);
elisaLegend(1779, 1771, 783, 1787);
</script>
</body>
</html>
